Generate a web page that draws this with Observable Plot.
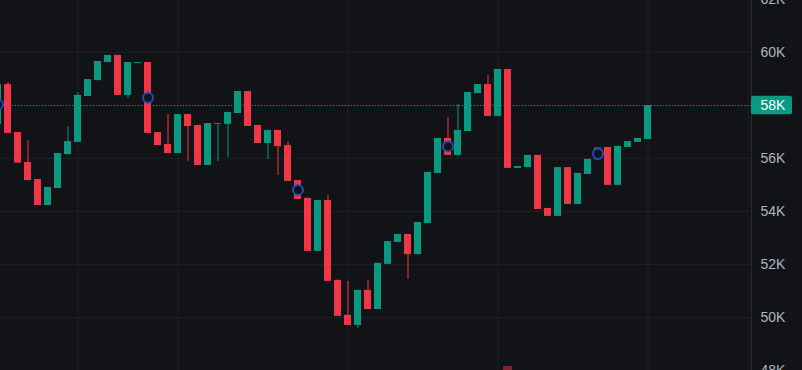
<!DOCTYPE html>
<html><head><meta charset="utf-8">
<script src="https://cdn.jsdelivr.net/npm/d3@7"></script>
<script src="https://cdn.jsdelivr.net/npm/@observablehq/plot@0.6"></script>
<style>
html,body{margin:0;padding:0;background:#121317;overflow:hidden;}
</style></head><body><div id="chart"></div>
<script>
// Candle index (one step per candle), values in thousands of USD
const candleIndex = d3.range(-1, 65);
const open = [57.28,58.78,56.97,55.84,55.20,54.22,54.86,56.14,56.60,58.33,58.93,59.61,59.88,58.37,59.57,59.61,56.97,56.52,56.18,57.65,57.24,55.73,57.28,57.28,57.69,58.52,57.24,56.56,57.05,56.48,55.16,54.49,52.49,54.41,51.40,50.08,49.70,51.02,50.30,52.00,52.83,53.13,52.37,53.54,55.43,56.75,56.11,57.01,58.44,58.78,57.58,59.35,55.62,55.65,56.11,54.11,53.81,55.65,54.26,55.39,55.94,56.41,54.98,56.41,56.60,56.71];
const close = [58.78,56.94,55.82,55.16,54.22,54.90,56.18,56.63,58.37,58.97,59.65,59.88,58.37,59.61,59.61,56.94,56.48,56.18,57.65,57.20,55.73,57.31,57.31,57.73,58.52,57.20,56.56,57.05,56.44,55.13,54.45,52.49,54.41,51.36,50.04,49.70,51.02,50.30,52.04,52.86,53.13,52.37,53.58,55.47,56.75,56.11,57.05,58.48,58.78,57.58,59.35,55.62,55.69,56.11,54.07,53.81,55.65,54.26,55.43,55.96,56.39,54.98,56.45,56.63,56.75,57.99];
const high = [58.78,58.86,56.97,56.67,55.20,54.90,56.18,57.20,58.48,58.97,59.65,59.88,59.88,59.61,59.61,59.61,56.97,57.65,57.65,57.65,57.24,57.31,57.31,57.73,58.52,58.52,57.24,57.05,57.05,56.63,55.16,54.49,54.41,54.60,51.40,51.36,51.02,51.40,52.04,52.86,53.13,53.13,53.58,55.47,56.75,57.54,58.03,58.48,58.78,59.12,59.35,59.35,55.69,56.11,56.11,54.11,55.65,55.65,55.43,55.96,56.39,56.41,56.45,56.63,56.75,57.99];
const low = [57.28,56.94,55.82,55.16,54.22,54.22,54.86,56.14,56.60,58.33,58.93,59.61,58.37,58.27,59.57,56.94,56.48,56.18,56.18,55.88,55.73,55.73,55.88,56.03,57.69,57.20,56.56,55.95,55.35,55.13,54.45,52.49,52.49,51.36,50.04,49.70,49.59,50.30,50.30,52.00,52.83,51.43,52.37,53.54,55.43,56.11,56.07,57.01,58.44,57.58,57.58,55.62,55.62,55.65,54.07,53.81,53.81,54.26,54.26,55.39,55.94,54.98,54.98,56.41,56.60,56.71];

// Indicator markers (blue rings)
const markerIndex = [-1, 14, 29, 44, 59];
const markerValue = [58.03, 58.28, 54.81, 56.45, 56.17];

// Volume bar peeking at the bottom
const volumeIndex = [50];
const volumeTop = [48.15];

// Axis / grid
const yTicks = [48, 50, 52, 54, 56, 58, 60, 62];
const gridIndex = [7, 17, 34, 49, 64, 74];

const UP = "#089981", DOWN = "#f23645", BG = "#121317", GRID = "#1f2127";
const xDomain = [-0.75, 74.35];
const yDomain = [48.0, 61.95];

const candles = candleIndex.map((k, i) => ({k, o: open[i], c: close[i], h: high[i], l: low[i]}));
const markers = markerIndex.map((k, i) => ({k, v: markerValue[i]}));
const volumes = volumeIndex.map((k, i) => ({k, top: volumeTop[i]}));
const last = close[close.length - 1];

const chart = Plot.plot({
  width: 802,
  height: 370,
  marginLeft: 0,
  marginRight: 51,
  marginTop: 0,
  marginBottom: 0,
  style: {background: BG, color: "#b2b5be", fontFamily: "'Liberation Sans', Arial, sans-serif", fontSize: "14px"},
  x: {domain: xDomain, axis: null},
  y: {domain: yDomain, axis: null},
  marks: [
    Plot.ruleY(yTicks, {stroke: GRID, strokeWidth: 1}),
    Plot.ruleX(gridIndex, {stroke: GRID, strokeWidth: 1}),
    Plot.ruleX([xDomain[1]], {stroke: "#2a2d33", strokeWidth: 1}),
    Plot.rect(volumes, {x1: d => d.k - 0.45, x2: d => d.k + 0.45, y1: yDomain[0], y2: d => d.top, fill: DOWN, fillOpacity: 0.5}),
    Plot.ruleY([last], {stroke: UP, strokeWidth: 1, strokeDasharray: "1,2"}),
    Plot.ruleX(candles, {x: "k", y1: "l", y2: "h", stroke: d => d.c >= d.o ? UP : DOWN, strokeWidth: 1}),
    Plot.rect(candles, {x1: d => d.k - 0.35, x2: d => d.k + 0.35, y1: "o", y2: "c", fill: d => d.c >= d.o ? UP : DOWN}),
    Plot.dot(markers, {x: "k", y: "v", r: 5, stroke: "#2448b8", strokeWidth: 2, fill: BG}),
    Plot.axisY({anchor: "right", ticks: yTicks, tickFormat: d => d + "K", tickSize: 0, tickPadding: 9, fontSize: 14, fill: "#b2b5be"}),
    Plot.rect([last], {x1: xDomain[1], x2: xDomain[1] + 4.1, y1: d => d - 0.35, y2: d => d + 0.35, fill: UP, rx: 2}),
    Plot.text([last], {x: xDomain[1], y: d => d, dx: 9, text: d => Math.round(d) + "K", textAnchor: "start", fill: "white", fontSize: 14})
  ]
});
document.getElementById("chart").appendChild(chart);
</script></body></html>
